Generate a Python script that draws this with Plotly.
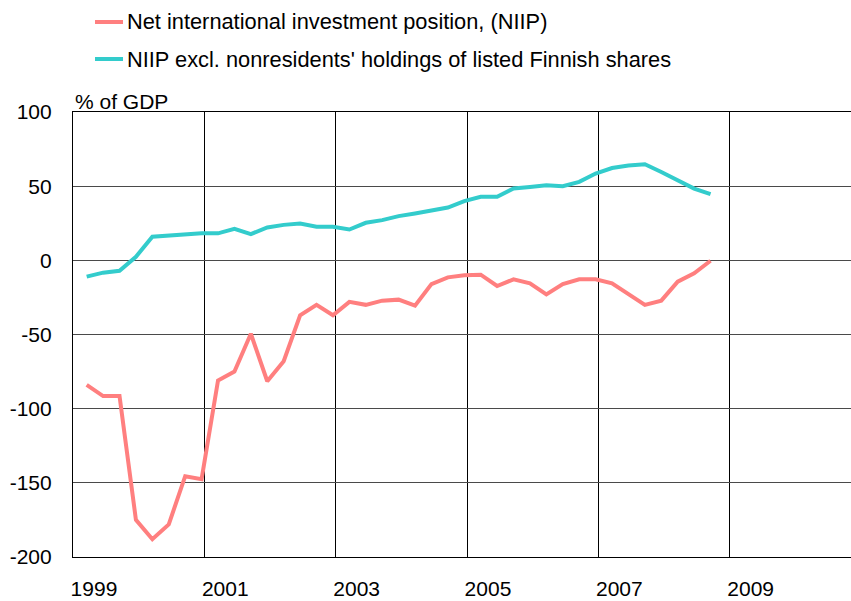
import plotly.graph_objects as go

# Quarterly observations, 1999Q1 - 2008Q3 (% of GDP)
years = [1999] * 4 + [2000] * 4 + [2001] * 4 + [2002] * 4 + [2003] * 4 + \
        [2004] * 4 + [2005] * 4 + [2006] * 4 + [2007] * 4 + [2008] * 3
quarters = [1, 2, 3, 4] * 9 + [1, 2, 3]

niip = [-84, -91.5, -91.5, -175, -188, -178, -145.5, -147.5,
        -81, -75, -49.5, -81.5, -68, -37, -30, -37,
        -28, -30, -27.2, -26.5, -30.6, -16, -11.5, -10,
        -9.7, -17.3, -12.8, -15.5, -23, -16, -12.8, -12.8,
        -15.5, -22.7, -30, -27.2, -14.4, -8.7, -0.3]

niip_excl = [-11, -8.3, -7, 2.4, 15.9, 16.5, 17.7, 18.2,
             18.2, 21.3, 17.7, 22.2, 23.9, 24.8, 22.6, 22.6,
             20.8, 25.3, 27.1, 29.8, 31.6, 33.4, 35.6, 39.9,
             42.8, 42.8, 48.4, 49.5, 50.6, 50, 52.9, 58.5,
             62.2, 63.9, 64.8, 59.6, 54, 48.4, 44.6]

series_names = ["Net international investment position, (NIIP)",
                "NIIP excl. nonresidents' holdings of listed Finnish shares"]
series_colors = ["#FF7F7F", "#33CCCC"]

x_ticks = [1999, 2001, 2003, 2005, 2007, 2009]
y_ticks = [-200, -150, -100, -50, 0, 50, 100]

# each observation sits in the middle of the last month of its quarter
x = [y + (3 * q - 0.5) / 12 for y, q in zip(years, quarters)]

FONT = "Liberation Sans, Arial, sans-serif"
W, H = 851, 601
ML, MR, MT, MB = 73, 0, 112, 44
plot_w = W - ML - MR
plot_h = H - MT - MB

fig = go.Figure()
for vals, name, color in zip([niip, niip_excl], series_names, series_colors):
    fig.add_trace(go.Scatter(
        x=x, y=vals, mode="lines", name=name, showlegend=False,
        line=dict(color=color, width=4),
    ))


def px_x(px):
    return (px - ML) / plot_w


def px_y(py):
    return (H - MB - py) / plot_h


# legend drawn above the plot area: a short coloured stroke and its label
shapes, annotations = [], []
for row, (name, color) in enumerate(zip(series_names, series_colors)):
    cy = px_y(22 + row * 37)
    shapes.append(dict(type="line", xref="paper", yref="paper",
                       x0=px_x(95), x1=px_x(123), y0=cy, y1=cy,
                       line=dict(color=color, width=4)))
    annotations.append(dict(text=name, xref="paper", yref="paper",
                            x=px_x(125), y=cy, xanchor="left", yanchor="middle",
                            showarrow=False, font=dict(family=FONT, size=21.8)))

annotations.append(dict(
    text="% of GDP", xref="paper", yref="paper", x=0, y=1,
    xanchor="left", yanchor="bottom", showarrow=False, yshift=-3,
    font=dict(family=FONT, size=21),
))

fig.update_layout(
    width=W, height=H,
    margin=dict(l=ML, r=MR, t=MT, b=MB),
    paper_bgcolor="white", plot_bgcolor="white",
    font=dict(family=FONT, size=21, color="black"),
    showlegend=False,
    xaxis=dict(
        range=[1999, 1999 + plot_w / 65.67],
        tickvals=x_ticks, ticktext=[str(t) for t in x_ticks],
        ticklabelposition="outside right", tickangle=0,
        ticklabelstandoff=13, ticklabelshift=-3,
        showgrid=True, gridcolor="black", gridwidth=1,
        showline=True, linecolor="black", linewidth=1.2, mirror=True,
        ticks="", zeroline=False,
        tickfont=dict(family=FONT, size=21),
    ),
    yaxis=dict(
        range=[-200, 100],
        tickvals=y_ticks, ticktext=[str(t) for t in y_ticks],
        ticklabelstandoff=16,
        showgrid=True, gridcolor="#4a4a4a", gridwidth=1.4,
        showline=True, linecolor="black", linewidth=1.2,
        ticks="", zeroline=False,
        tickfont=dict(family=FONT, size=21),
    ),
    shapes=shapes,
    annotations=annotations,
)

fig.write_html("out.html")
